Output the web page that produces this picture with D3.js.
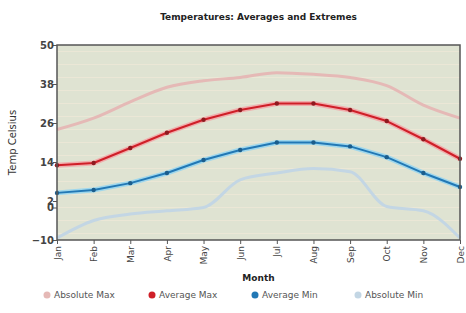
<!DOCTYPE html>
<html>
<head>
<meta charset="utf-8">
<script src="https://cdn.jsdelivr.net/npm/d3@7"></script>
<style>
  body { margin: 0; background: #fff; }
  text { font-family: "DejaVu Sans", Verdana, sans-serif; }
</style>
</head>
<body>
<svg width="466" height="313"></svg>
<script>
const months = ["Jan","Feb","Mar","Apr","May","Jun","Jul","Aug","Sep","Oct","Nov","Dec"];
const absMax = [24, 27.5, 32.5, 37, 39, 40, 41.5, 41, 40, 37.5, 31.5, 27.5];
const avgMax = [13, 13.7, 18.3, 23, 27, 30, 32, 32, 30, 26.6, 21, 15];
const avgMin = [4.5, 5.4, 7.5, 10.6, 14.6, 17.7, 20, 20, 18.8, 15.5, 10.6, 6.3];
const absMin = [-9.4, -4, -2, -1, 0, 8.5, 10.6, 12, 11, 0.3, -1, -9.4];
const yTicks = [-10, 0, 2, 14, 26, 38, 50];

const series = [
  { name: "Absolute Max", values: absMax, color: "#e5b9b6", glow: null, dots: false, curve: d3.curveMonotoneX, width: 3 },
  { name: "Average Max", values: avgMax, color: "#cf1f28", glow: "#f4a0a4", dots: true, dotColor: "#8e1a1f", curve: d3.curveLinear, width: 2 },
  { name: "Average Min", values: avgMin, color: "#2278b5", glow: "#8fd3f2", dots: true, dotColor: "#1b5d8c", curve: d3.curveLinear, width: 2 },
  { name: "Absolute Min", values: absMin, color: "#c3d6e4", glow: null, dots: false, curve: d3.curveMonotoneX, width: 3 }
];

const svg = d3.select("svg");
const m = { left: 57, right: 460, top: 45, bottom: 240 };

const xs = d3.scalePoint().domain(months).range([m.left, m.right]);
const ys = d3.scaleLinear().domain([-10, 50]).range([m.bottom, m.top]);

// title
svg.append("text")
  .attr("x", (m.left + m.right) / 2)
  .attr("y", 20)
  .attr("text-anchor", "middle")
  .attr("font-size", "9px")
  .attr("font-weight", "bold")
  .attr("fill", "#222")
  .text("Temperatures: Averages and Extremes");

// plot background
svg.append("rect")
  .attr("x", m.left).attr("y", m.top)
  .attr("width", m.right - m.left).attr("height", m.bottom - m.top)
  .attr("fill", "#dfe3d2");

// faint gridlines
svg.append("g").selectAll("line")
  .data(d3.range(-8, 50, 4))
  .join("line")
  .attr("x1", m.left).attr("x2", m.right)
  .attr("y1", d => ys(d)).attr("y2", d => ys(d))
  .attr("stroke", "#ebe7d6")
  .attr("stroke-width", 1);

// lines
series.forEach(s => {
  const line = d3.line()
    .x((d, i) => xs(months[i]))
    .y(d => ys(d))
    .curve(s.curve);
  if (s.glow) {
    svg.append("path")
      .datum(s.values)
      .attr("fill", "none")
      .attr("stroke", s.glow)
      .attr("stroke-opacity", 0.8)
      .attr("stroke-width", 5)
      .attr("d", line);
  }
  svg.append("path")
    .datum(s.values)
    .attr("fill", "none")
    .attr("stroke", s.color)
    .attr("stroke-width", s.width)
    .attr("stroke-linejoin", "round")
    .attr("d", line);
  if (s.dots) {
    svg.append("g").selectAll("circle")
      .data(s.values)
      .join("circle")
      .attr("cx", (d, i) => xs(months[i]))
      .attr("cy", d => ys(d))
      .attr("r", 2.2)
      .attr("fill", s.dotColor);
  }
});

// frame
svg.append("rect")
  .attr("x", m.left).attr("y", m.top)
  .attr("width", m.right - m.left).attr("height", m.bottom - m.top)
  .attr("fill", "none")
  .attr("stroke", "#555")
  .attr("stroke-width", 1.5);

// y axis
const yAxis = svg.append("g")
  .attr("transform", `translate(${m.left},0)`)
  .call(d3.axisLeft(ys).tickValues(yTicks).tickSize(4).tickFormat(d3.format("d")));
yAxis.select(".domain").remove();
yAxis.selectAll("line").attr("stroke", "#555");
yAxis.selectAll("text")
  .attr("font-size", "10px")
  .attr("font-weight", "bold")
  .attr("fill", "#444")
  .attr("x", -3);

// x axis
const xAxis = svg.append("g")
  .attr("transform", `translate(0,${m.bottom})`)
  .call(d3.axisBottom(xs).tickSize(4));
xAxis.select(".domain").remove();
xAxis.selectAll("line").attr("stroke", "#555");
xAxis.selectAll("text")
  .attr("font-size", "9px")
  .attr("fill", "#444")
  .attr("transform", "rotate(-90)")
  .attr("text-anchor", "end")
  .attr("x", -6)
  .attr("y", 0)
  .attr("dy", "0.35em");

// axis titles
svg.append("text")
  .attr("transform", `translate(16,${(m.top + m.bottom) / 2}) rotate(-90)`)
  .attr("text-anchor", "middle")
  .attr("font-size", "10px")
  .attr("fill", "#333")
  .text("Temp Celsius");

svg.append("text")
  .attr("x", (m.left + m.right) / 2)
  .attr("y", 281)
  .attr("text-anchor", "middle")
  .attr("font-size", "9px")
  .attr("font-weight", "bold")
  .attr("fill", "#222")
  .text("Month");

// legend
const legendX = [47, 152, 255, 358];
const legend = svg.append("g").selectAll("g")
  .data(series)
  .join("g")
  .attr("transform", (d, i) => `translate(${legendX[i]},298)`);
legend.append("circle")
  .attr("r", 3.5)
  .attr("cy", -3)
  .attr("fill", d => d.dots ? d.color : d.color);
legend.append("text")
  .attr("x", 7)
  .attr("y", 0)
  .attr("font-size", "9px")
  .attr("fill", "#555")
  .text(d => d.name);
</script>
</body>
</html>
